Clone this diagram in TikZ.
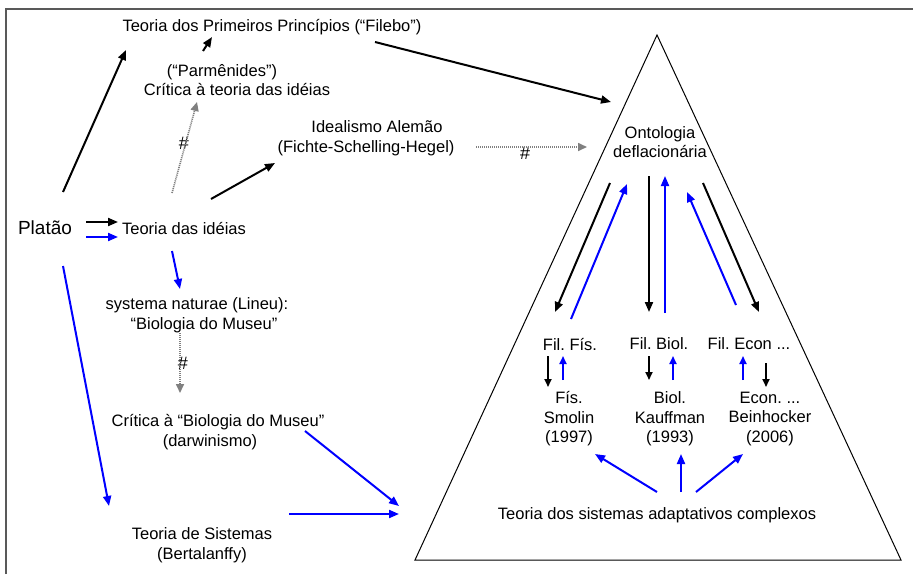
\documentclass[tikz,border=0pt]{standalone}
\usepackage{fontspec}
\setmainfont{Liberation Sans}
\usetikzlibrary{arrows.meta}
\frenchspacing
\begin{document}
\begin{tikzpicture}[x=1pt,y=-1pt,
  txt/.style={font=\fontsize{16.5}{19.5}\selectfont, align=center, inner sep=0pt},
  big/.style={font=\fontsize{19}{22}\selectfont, inner sep=0pt},
  blk/.style={line width=2pt, -{Triangle[length=10pt,width=8pt]}},
  blu/.style={blk, blue},
  gry/.style={line width=1.6pt, gray, dash pattern=on 1.1pt off 0.9pt, -{Triangle[length=9pt,width=8pt]}},
  sml/.style={line width=1.8pt, -{Triangle[length=8pt,width=7pt]}},
  smlb/.style={sml, blue},
  hash/.style={font=\fontsize{18}{18}\selectfont, inner sep=0pt}]
\useasboundingbox (0,0) rectangle (913,574);
\fill[white] (0,0) rectangle (913,574);
% frame
\draw[line width=2pt, black!65] (5.5,574) -- (5.5,8.5) -- (913,8.5);
% triangle
\coordinate (apex) at (657,35);
\coordinate (bl) at (415,560);
\coordinate (br) at (901,560);
\draw[line width=1pt] (apex) -- (bl) -- (br) -- cycle;

% text nodes
\node[big] (platao) at (45,228) {Platão};
\node[txt] (prim) at (272,27) {Teoria dos Primeiros Princípios (“Filebo”)};
\node[txt] (parm) at (237,80) {(“Parmênides”)\rule{30pt}{0pt}\\Crítica à teoria das idéias};
\node[txt] (ideal) at (366,138) {\rule{22pt}{0pt}Idealismo Alemão\\(Fichte-Schelling-Hegel)};
\node[txt] (tid) at (184,228) {Teoria das idéias};
\node[txt] (syst) at (197,315) {systema naturae (Lineu):\\\rule{14pt}{0pt}“Biologia do Museu”};
\node[txt] (crit) at (218,432) {Crítica à “Biologia do Museu”\\(darwinismo)\rule{16pt}{0pt}};
\node[txt] (tsis) at (202,545) {Teoria de Sistemas\\(Bertalanffy)};
\node[txt] (onto) at (660,142) {Ontologia\\deflacionária};
\node[txt] (filf) at (570,344) {Fil. Fís.};
\node[txt] (filb) at (659,344) {Fil. Biol.};
\node[txt] (file) at (749,344) {Fil. Econ ...};
\node[txt] (fis) at (569,419) {Fís.\\Smolin\\(1997)};
\node[txt] (bio) at (670,419) {Biol.\\Kauffman\\(1993)};
\node[txt] (eco) at (770,419) {Econ. ...\\Beinhocker\\(2006)};
\node[txt] (tsac) at (657,515) {Teoria dos sistemas adaptativos complexos};
\node[hash] (h1) at (184,143) {\#};
\node[hash] (h2) at (525,153) {\#};
\node[hash] (h3) at (183,363) {\#};

% connector end points
\coordinate (p1a) at (63,192);   \coordinate (p1b) at (126,50);
\coordinate (p2a) at (203,51);   \coordinate (p2b) at (212,37);
\coordinate (g1a) at (172,193);  \coordinate (g1b) at (197,102);
\coordinate (t1a) at (211,199);  \coordinate (t1b) at (275,163);
\coordinate (f1a) at (375,42);   \coordinate (f1b) at (611,102);
\coordinate (g2a) at (476,147);  \coordinate (g2b) at (587,147);
\coordinate (pt1a) at (86,222);  \coordinate (pt1b) at (118,222);
\coordinate (pt2a) at (86,237);  \coordinate (pt2b) at (118,237);
\coordinate (ts1a) at (172,251); \coordinate (ts1b) at (180,289);
\coordinate (ps1a) at (63,266);  \coordinate (ps1b) at (109,506);
\coordinate (g3a) at (180,333);  \coordinate (g3b) at (180,393);
\coordinate (c1a) at (305,431);  \coordinate (c1b) at (399,506);
\coordinate (s1a) at (289,514);  \coordinate (s1b) at (399,514);
% inside triangle
\coordinate (o1a) at (610,183);  \coordinate (o1b) at (555,312);
\coordinate (o2a) at (571,319);  \coordinate (o2b) at (627,184);
\coordinate (o3a) at (649,176);  \coordinate (o3b) at (649,312);
\coordinate (o4a) at (665,313);  \coordinate (o4b) at (665,176);
\coordinate (o5a) at (736,305);  \coordinate (o5b) at (687,192);
\coordinate (o6a) at (703,183);  \coordinate (o6b) at (759,312);
\coordinate (k1a) at (548,356);  \coordinate (k1b) at (548,387);
\coordinate (k2a) at (563,380);  \coordinate (k2b) at (563,356);
\coordinate (k3a) at (649,356);  \coordinate (k3b) at (649,380);
\coordinate (k4a) at (673,380);  \coordinate (k4b) at (673,356);
\coordinate (k5a) at (743,380);  \coordinate (k5b) at (743,356);
\coordinate (k6a) at (766,363);  \coordinate (k6b) at (766,387);
\coordinate (b1a) at (657,492);  \coordinate (b1b) at (595,454);
\coordinate (b2a) at (681,492);  \coordinate (b2b) at (681,454);
\coordinate (b3a) at (696,492);  \coordinate (b3b) at (743,454);

% connectors
\draw[blk] (p1a) -- (p1b);
\draw[blk] (p2a) -- (p2b);
\draw[gry] (g1a) -- (g1b);
\draw[blk] (t1a) -- (t1b);
\draw[blk] (f1a) -- (f1b);
\draw[gry] (g2a) -- (g2b);
\draw[blk] (pt1a) -- (pt1b);
\draw[blu] (pt2a) -- (pt2b);
\draw[blu] (ts1a) -- (ts1b);
\draw[blu] (ps1a) -- (ps1b);
\draw[gry] (g3a) -- (g3b);
\draw[blu] (c1a) -- (c1b);
\draw[blu] (s1a) -- (s1b);
\draw[blk] (o1a) -- (o1b);
\draw[blu] (o2a) -- (o2b);
\draw[blk] (o3a) -- (o3b);
\draw[blu] (o4a) -- (o4b);
\draw[blu] (o5a) -- (o5b);
\draw[blk] (o6a) -- (o6b);
\draw[sml] (k1a) -- (k1b);
\draw[smlb] (k2a) -- (k2b);
\draw[sml] (k3a) -- (k3b);
\draw[smlb] (k4a) -- (k4b);
\draw[smlb] (k5a) -- (k5b);
\draw[sml] (k6a) -- (k6b);
\draw[blu] (b1a) -- (b1b);
\draw[blu] (b2a) -- (b2b);
\draw[blu] (b3a) -- (b3b);
\end{tikzpicture}
\end{document}
